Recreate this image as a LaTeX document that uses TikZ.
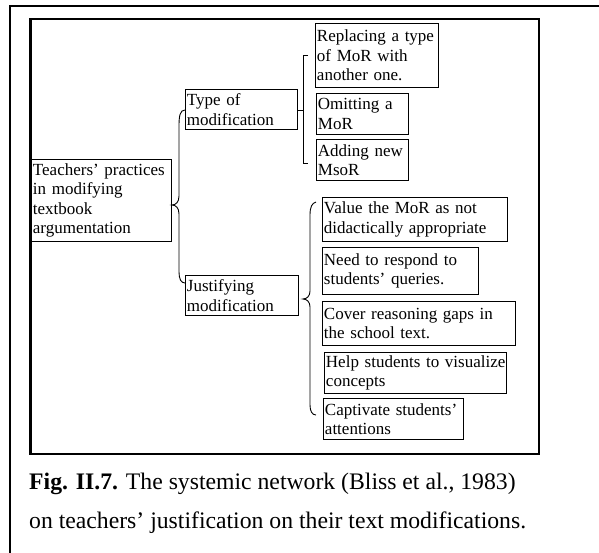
\documentclass[tikz,border=0pt]{standalone}
\usepackage{fontspec}
\setmainfont{Liberation Serif}
\begin{document}
\begin{tikzpicture}[x=1pt,y=-1pt,
  box/.style={draw,line width=0.9pt,anchor=north west,inner xsep=1.5pt,inner ysep=0pt,
    align=left,font=\fontsize{17}{19.5}\selectfont},
  frame/.style={line width=2.4pt},
  link/.style={line width=0.9pt},
  captext/.style={anchor=base west,inner sep=0pt,font=\fontsize{23.7}{40}\selectfont}]
\useasboundingbox (0,0) rectangle (599,553);
% frames
\draw[frame] (10,553) -- (10,6) -- (599,6);
\draw[frame] (30.5,19) rectangle (539,454);
% nodes
\node[box,minimum width=140pt,minimum height=82pt,text width=137pt] (root) at (31,159)
  {\mbox{Teachers’ practices}\\in modifying\\textbook\\argumentation};
\node[box,minimum width=112pt,minimum height=40pt,text width=109pt] (type) at (185,89)
  {Type of\\modification};
\node[box,minimum width=113pt,minimum height=40pt,text width=110pt] (just) at (185,275)
  {Justifying\\modification};
\node[box,minimum width=123pt,minimum height=64pt,text width=120pt] (rep) at (315,23)
  {\mbox{Replacing a type}\\of MoR with\\another one.};
\node[box,minimum width=92pt,minimum height=41pt,text width=89pt] (omit) at (316,93)
  {\mbox{Omitting a}\\MoR};
\node[box,minimum width=92pt,minimum height=41pt,text width=89pt] (add) at (316,139)
  {\mbox{Adding new}\\MsoR};
\node[box,minimum width=185pt,minimum height=44pt,text width=182pt] (val) at (322,197)
  {\mbox{Value the MoR as not}\\\mbox{didactically appropriate}};
\node[box,minimum width=156pt,minimum height=47pt,text width=153pt] (need) at (322,247)
  {\mbox{Need to respond to}\\\mbox{students’ queries.}};
\node[box,minimum width=193pt,minimum height=44pt,text width=190pt] (cover) at (322,301)
  {\mbox{Cover reasoning gaps in}\\the school text.};
\node[box,minimum width=182pt,minimum height=41pt,text width=179pt] (help) at (324,352)
  {\mbox{Help students to visualize}\\concepts};
\node[box,minimum width=140pt,minimum height=41pt,text width=137pt] (capt) at (323,398)
  {\mbox{Captivate students’}\\attentions};
% type bracket
\coordinate (tb) at (303,110);
\coordinate (tt) at (303,55);
\coordinate (tbot) at (303,163);
\draw[link] (type.east |- tb) -- (tb);
\draw[link] ([xshift=5pt]tt) -- (tt) -- (tbot) -- ([xshift=5pt]tbot);
% root brace
\coordinate (rp) at (root.east |- 0,205);
\draw[link] (type.west |- 0,110) .. controls (180,110) and (179,116) .. (179,126)
  -- (179,196) .. controls (179,202) and (176,205) .. (rp)
  .. controls (176,205) and (179,208) .. (179,214)
  -- (179,272) .. controls (179,279) and (181,283) .. (just.west |- 0,283);
% justifying brace
\coordinate (jp) at (303,299);
\draw[link] (316,202) .. controls (312,203) and (310,207) .. (310,215)
  -- (310,291) .. controls (310,296) and (307,299) .. (jp)
  .. controls (307,299) and (310,302) .. (310,307)
  -- (310,405) .. controls (310,411) and (312,415) .. (316,415);
% caption
\node[captext] (cap1) at (29,489)
  {\textbf{Fig. II.7.} The systemic network (Bliss et al., 1983)};
\node[captext] (cap2) at (29,528)
  {on teachers’ justification on their text modifications.};
\end{tikzpicture}
\end{document}
